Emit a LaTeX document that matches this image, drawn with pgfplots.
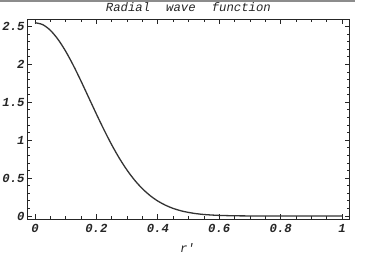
\documentclass[border=0pt]{standalone}
\usepackage{fontspec}
\setmainfont{Liberation Serif}
\newfontfamily\cour{Liberation Mono}
\usepackage{pgfplots}
\pgfplotsset{compat=1.18}
\begin{document}
\begin{tikzpicture}
\useasboundingbox (-27.3pt,-39.5pt) rectangle (357.7pt,219.5pt);
\begin{axis}[
  at={(0,0)}, anchor=south west,
  scale only axis,
  width=322.2pt, height=200.2pt,
  xmin=-0.025, xmax=1.024,
  ymin=-0.046, ymax=2.595,
  xtick={0,0.2,0.4,0.6,0.8,1},
  xticklabels={0,0.2,0.4,0.6,0.8,1},
  ytick={0,0.5,1,1.5,2,2.5},
  yticklabels={0,0.5,1,1.5,2,2.5},
  minor x tick num=3,
  minor y tick num=4,
  tick align=inside,
  major tick length=5pt,
  minor tick length=3pt,
  tick style={black!85, line width=0.8pt},
  axis line style={black!85, line width=1.1pt},
  ticklabel style={font=\cour\fontsize{12.3}{14}\selectfont\bfseries\itshape, text=black!85, inner sep=2.5pt},
  xticklabel style={yshift=-2.5pt},
  yticklabel style={xshift=0pt},
  clip=false,
]
\addplot[black!80, line width=1.3pt, smooth] coordinates {
(0,2.550) (0.025,2.525) (0.05,2.450) (0.075,2.330) (0.1,2.173)
(0.125,1.986) (0.15,1.779) (0.175,1.562) (0.2,1.345) (0.225,1.135)
(0.25,0.938) (0.275,0.760) (0.3,0.604) (0.325,0.470) (0.35,0.359)
(0.375,0.269) (0.4,0.197) (0.425,0.142) (0.45,0.100) (0.475,0.069)
(0.5,0.047) (0.525,0.031) (0.55,0.020) (0.575,0.013) (0.6,0.008)
(0.65,0.003) (0.7,0.001) (0.75,0) (0.8,0) (0.85,0) (0.9,0) (0.95,0) (1,0)
};
\node[anchor=base, font=\cour\fontsize{12.3}{14}\selectfont\itshape, text=black!85, inner sep=0pt]
  at (rel axis cs:0.5,1) [yshift=7.3pt] {Radial\hspace{16pt}wave\hspace{16pt}function};
\node[anchor=base, font=\cour\fontsize{12.3}{14}\selectfont\itshape, text=black!85, inner sep=0pt]
  at (rel axis cs:0.5,0) [yshift=-33.5pt, xshift=-1pt] {r'};
\end{axis}
\draw[black!45, line width=2pt] (-27.3pt,218.2pt) -- (327.7pt,218.2pt);
\end{tikzpicture}
\end{document}
